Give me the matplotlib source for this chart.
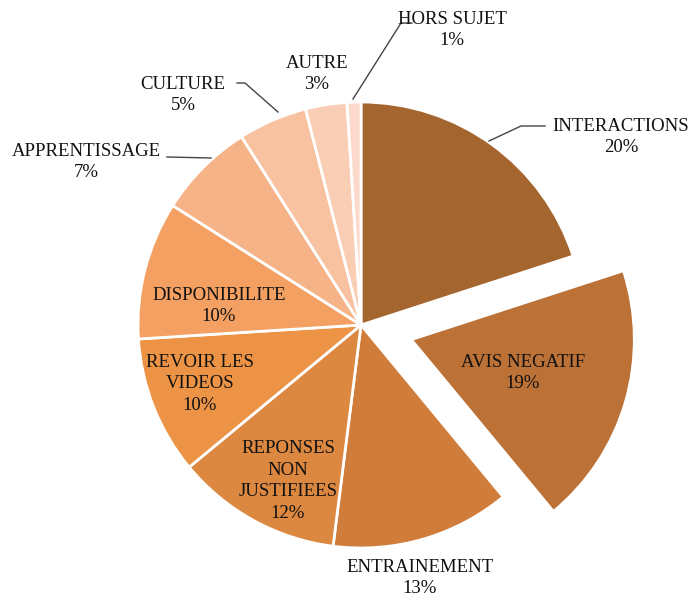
import numpy as np
import matplotlib
matplotlib.use('Agg')
import matplotlib.pyplot as plt

# data (clockwise from 12 o'clock)
categories = ['INTERACTIONS', 'AVIS NEGATIF', 'ENTRAINEMENT', 'REPONSES\nNON\nJUSTIFIEES',
              'REVOIR LES\nVIDEOS', 'DISPONIBILITE', 'APPRENTISSAGE', 'CULTURE', 'AUTRE', 'HORS SUJET']
shares = [20, 19, 13, 12, 10, 10, 7, 5, 3, 1]
colors = ['#A5652F', '#BC7136', '#D07D3C', '#DD8841', '#EC9346', '#F4A062',
          '#F6B387', '#F8C1A0', '#FACDB5', '#FCDACB']
explode_frac = [0, 0.235, 0, 0, 0, 0, 0, 0, 0, 0]

plt.rcParams['font.family'] = ['Liberation Serif', 'DejaVu Serif']

fig = plt.figure(figsize=(6.91, 6.02), dpi=100)
ax = fig.add_axes([0, 0, 1, 1])

cx, cy, r = 361, 277, 223
# pie's explode is in data units, so scale by radius
wedges, _ = ax.pie(shares, colors=colors, explode=[e * r for e in explode_frac],
                   startangle=90, counterclock=False,
                   center=(cx, cy), radius=r, frame=True,
                   wedgeprops=dict(edgecolor='white', linewidth=2))
ax.set_xlim(0, 691)
ax.set_ylim(0, 602)
ax.set_aspect('equal')
ax.set_axis_off()

# label placement in pixel coords (y from top)
label_pos = {
    'INTERACTIONS': (621, 137),
    'AVIS NEGATIF': (523, 373),
    'ENTRAINEMENT': (420, 578),
    'REPONSES\nNON\nJUSTIFIEES': (288, 481),
    'REVOIR LES\nVIDEOS': (200, 384),
    'DISPONIBILITE': (219, 306),
    'APPRENTISSAGE': (86, 162),
    'CULTURE': (183, 95),
    'AUTRE': (317, 74),
    'HORS SUJET': (452, 30),
}
# leader line paths (pixel coords from top)
leaders = {
    'INTERACTIONS': [(545, 126), (521, 126), (489, 141)],
    'APPRENTISSAGE': [(167, 157), (211, 158)],
    'CULTURE': [(237, 83), (245, 83), (278, 112)],
    'HORS SUJET': [(412, 23), (401, 23), (353, 99)],
}

for name, val in zip(categories, shares):
    x, y = label_pos[name]
    ax.text(x, 602 - y, f'{name}\n{val}%', ha='center', va='center', fontsize=13.5,
            color='#111111', linespacing=1.35)
    if name in leaders:
        pts = np.array(leaders[name], dtype=float)
        ax.plot(pts[:, 0], 602 - pts[:, 1], color='#444444', lw=1)

fig.savefig('out.png', dpi=100)
